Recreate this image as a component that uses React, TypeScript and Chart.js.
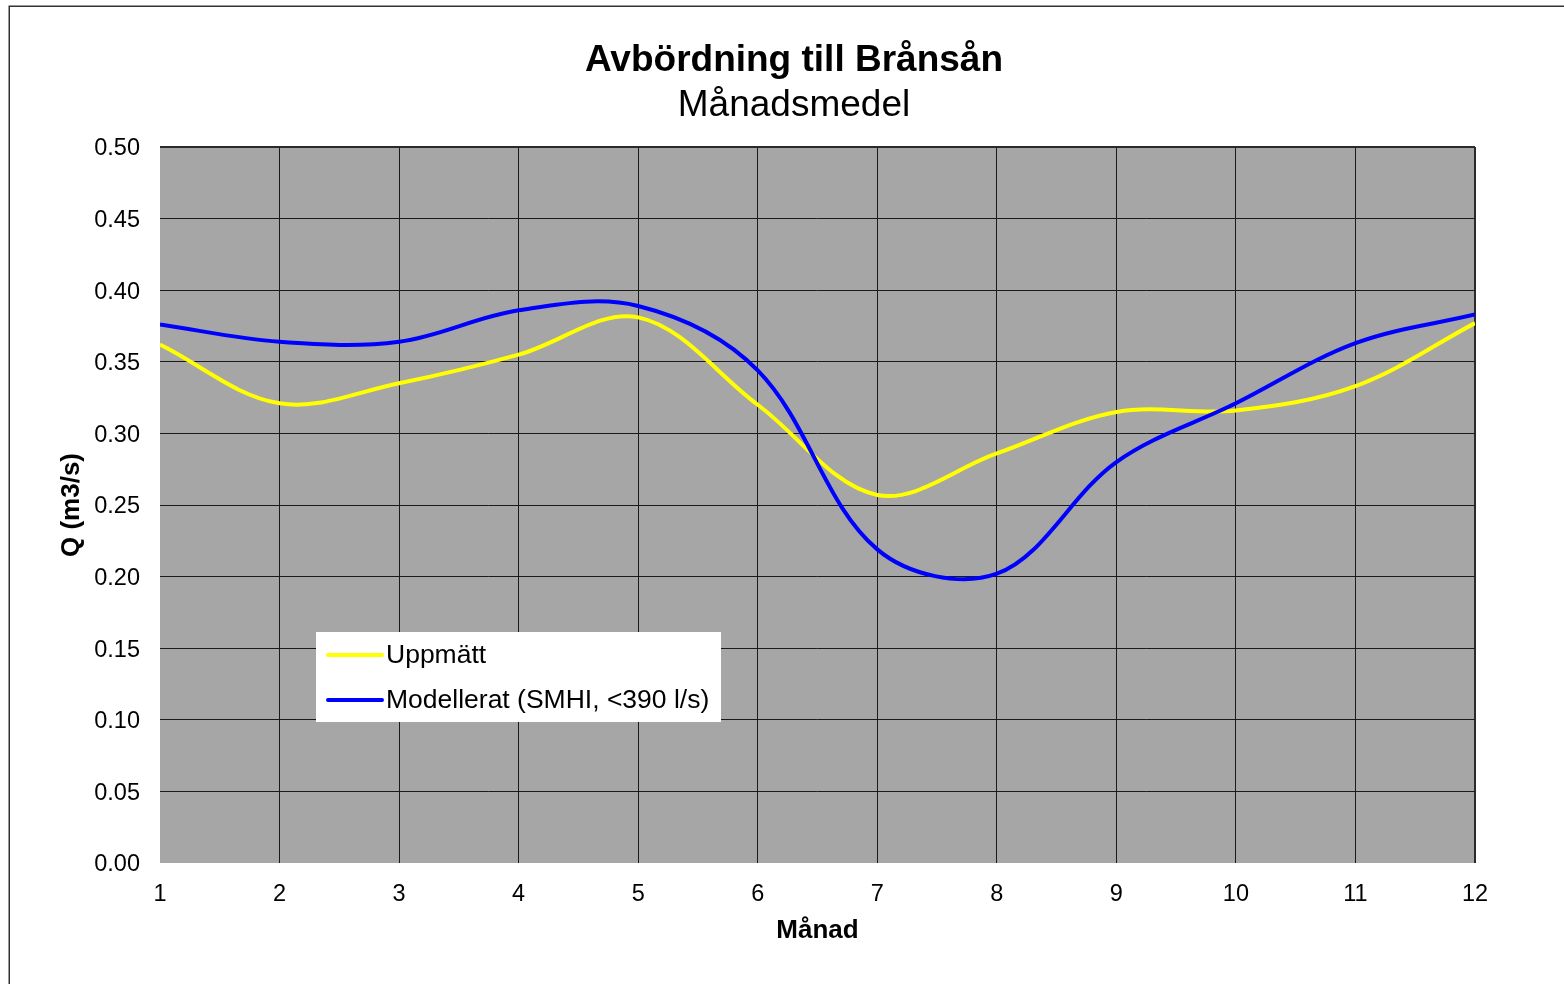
import { useEffect, useRef } from "react";
import { Chart, registerables } from "chart.js";

Chart.register(...registerables);

// Monthly mean discharge (m3/s)
const months = [1, 2, 3, 4, 5, 6, 7, 8, 9, 10, 11, 12];
const measured = [0.362, 0.321, 0.335, 0.355, 0.381, 0.320, 0.257, 0.286, 0.315, 0.316, 0.333, 0.377];
const modelled = [0.376, 0.364, 0.364, 0.386, 0.389, 0.344, 0.219, 0.202, 0.280, 0.321, 0.363, 0.383];

const seriesNames = ["Uppmätt", "Modellerat (SMHI, <390 l/s)"];
const seriesColors = ["#FFFF00", "#0000FF"];

const TITLE = "Avbördning till Brånsån";
const SUBTITLE = "Månadsmedel";
const X_TITLE = "Månad";
const Y_TITLE = "Q (m3/s)";

const FONT = '"Liberation Sans", Arial, Helvetica, sans-serif';

const decorPlugin = {
  id: "decor",
  beforeDraw(chart: any) {
    const { ctx, chartArea: a, width, height } = chart;
    ctx.save();
    ctx.fillStyle = "#ffffff";
    ctx.fillRect(0, 0, width, height);
    // plot area background
    ctx.fillStyle = "#A6A6A6";
    ctx.fillRect(a.left, a.top, a.right - a.left, a.bottom - a.top);
    // outer frame
    ctx.strokeStyle = "#333333";
    ctx.lineWidth = 1.5;
    ctx.strokeRect(9.25, 6.25, width + 50, height + 50);
    // titles
    ctx.fillStyle = "#000000";
    ctx.textAlign = "center";
    ctx.textBaseline = "alphabetic";
    ctx.font = `bold 37px ${FONT}`;
    ctx.fillText(TITLE, 794, 71);
    ctx.font = `37px ${FONT}`;
    ctx.fillText(SUBTITLE, 794, 116);
    ctx.restore();
  },
  afterDatasetsDraw(chart: any) {
    const { ctx } = chart;
    const bx = 316;
    const by = 632;
    const bw = 405;
    const bh = 90;
    ctx.save();
    ctx.fillStyle = "#ffffff";
    ctx.fillRect(bx, by, bw, bh);
    ctx.font = `26.5px ${FONT}`;
    ctx.textAlign = "left";
    ctx.textBaseline = "middle";
    seriesNames.forEach((name, i) => {
      const y = by + 23 + i * 45;
      ctx.strokeStyle = seriesColors[i];
      ctx.lineWidth = 4;
      ctx.lineCap = "round";
      ctx.beginPath();
      ctx.moveTo(bx + 12, y);
      ctx.lineTo(bx + 66, y);
      ctx.stroke();
      ctx.fillStyle = "#000000";
      ctx.fillText(name, bx + 70, y + 1);
    });
    ctx.restore();
  },
};

export default function App() {
  const canvasRef = useRef<HTMLCanvasElement | null>(null);

  useEffect(() => {
    const canvas = canvasRef.current;
    if (!canvas) return;
    const chart = new Chart(canvas, {
      type: "line",
      data: {
        datasets: [
          {
            label: seriesNames[0],
            data: months.map((m, i) => ({ x: m, y: measured[i] })),
            borderColor: seriesColors[0],
            backgroundColor: seriesColors[0],
            borderWidth: 4,
            pointRadius: 0,
            tension: 0.35,
            order: 2,
          },
          {
            label: seriesNames[1],
            data: months.map((m, i) => ({ x: m, y: modelled[i] })),
            borderColor: seriesColors[1],
            backgroundColor: seriesColors[1],
            borderWidth: 4,
            pointRadius: 0,
            tension: 0.35,
            order: 1,
          },
        ],
      },
      options: {
        responsive: false,
        animation: false,
        layout: { padding: { left: 0, right: 89, top: 147, bottom: 0 } },
        plugins: {
          legend: { display: false },
          title: { display: false },
          tooltip: { enabled: false },
        },
        scales: {
          x: {
            type: "linear",
            min: 1,
            max: 12,
            afterFit: (s: any) => {
              s.height = 121;
            },
            ticks: {
              stepSize: 1,
              color: "#000000",
              padding: 17,
              font: { family: FONT, size: 23.5 },
            },
            grid: {
              drawTicks: false,
              color: (c: any) => (c.tick && c.tick.value === 1 ? "rgba(0,0,0,0)" : c.tick && c.tick.value === 12 ? "#2a2a2a" : "#1a1a1a"),
              lineWidth: (c: any) => (c.tick && c.tick.value === 12 ? 2 : 1),
            },
            border: { display: false },
            title: {
              display: true,
              text: X_TITLE,
              color: "#000000",
              font: { family: FONT, size: 26, weight: "bold" },
              padding: { top: 0, bottom: 38 },
            },
          },
          y: {
            min: 0,
            max: 0.5,
            afterFit: (s: any) => {
              s.width = 160;
            },
            ticks: {
              stepSize: 0.05,
              color: "#000000",
              padding: 20,
              labelOffset: 2,
              font: { family: FONT, size: 23.5 },
              callback: (v: any) => Number(v).toFixed(2),
            },
            grid: {
              drawTicks: false,
              color: (c: any) => (c.tick && Math.abs(c.tick.value) < 1e-9 ? "rgba(0,0,0,0)" : Math.abs(c.tick.value - 0.5) < 1e-9 ? "#2a2a2a" : "#1a1a1a"),
              lineWidth: (c: any) => (c.tick && Math.abs(c.tick.value - 0.5) < 1e-9 ? 2 : 1),
            },
            border: { display: false },
            title: {
              display: true,
              text: Y_TITLE,
              color: "#000000",
              font: { family: FONT, size: 26, weight: "bold" },
              padding: { top: 56, bottom: 0 },
            },
          },
        },
      },
      plugins: [decorPlugin],
    });
    return () => chart.destroy();
  }, []);

  return (
    <canvas
      ref={canvasRef}
      width={1564}
      height={984}
      style={{ position: "absolute", left: 0, top: 0, display: "block" }}
    />
  );
}
